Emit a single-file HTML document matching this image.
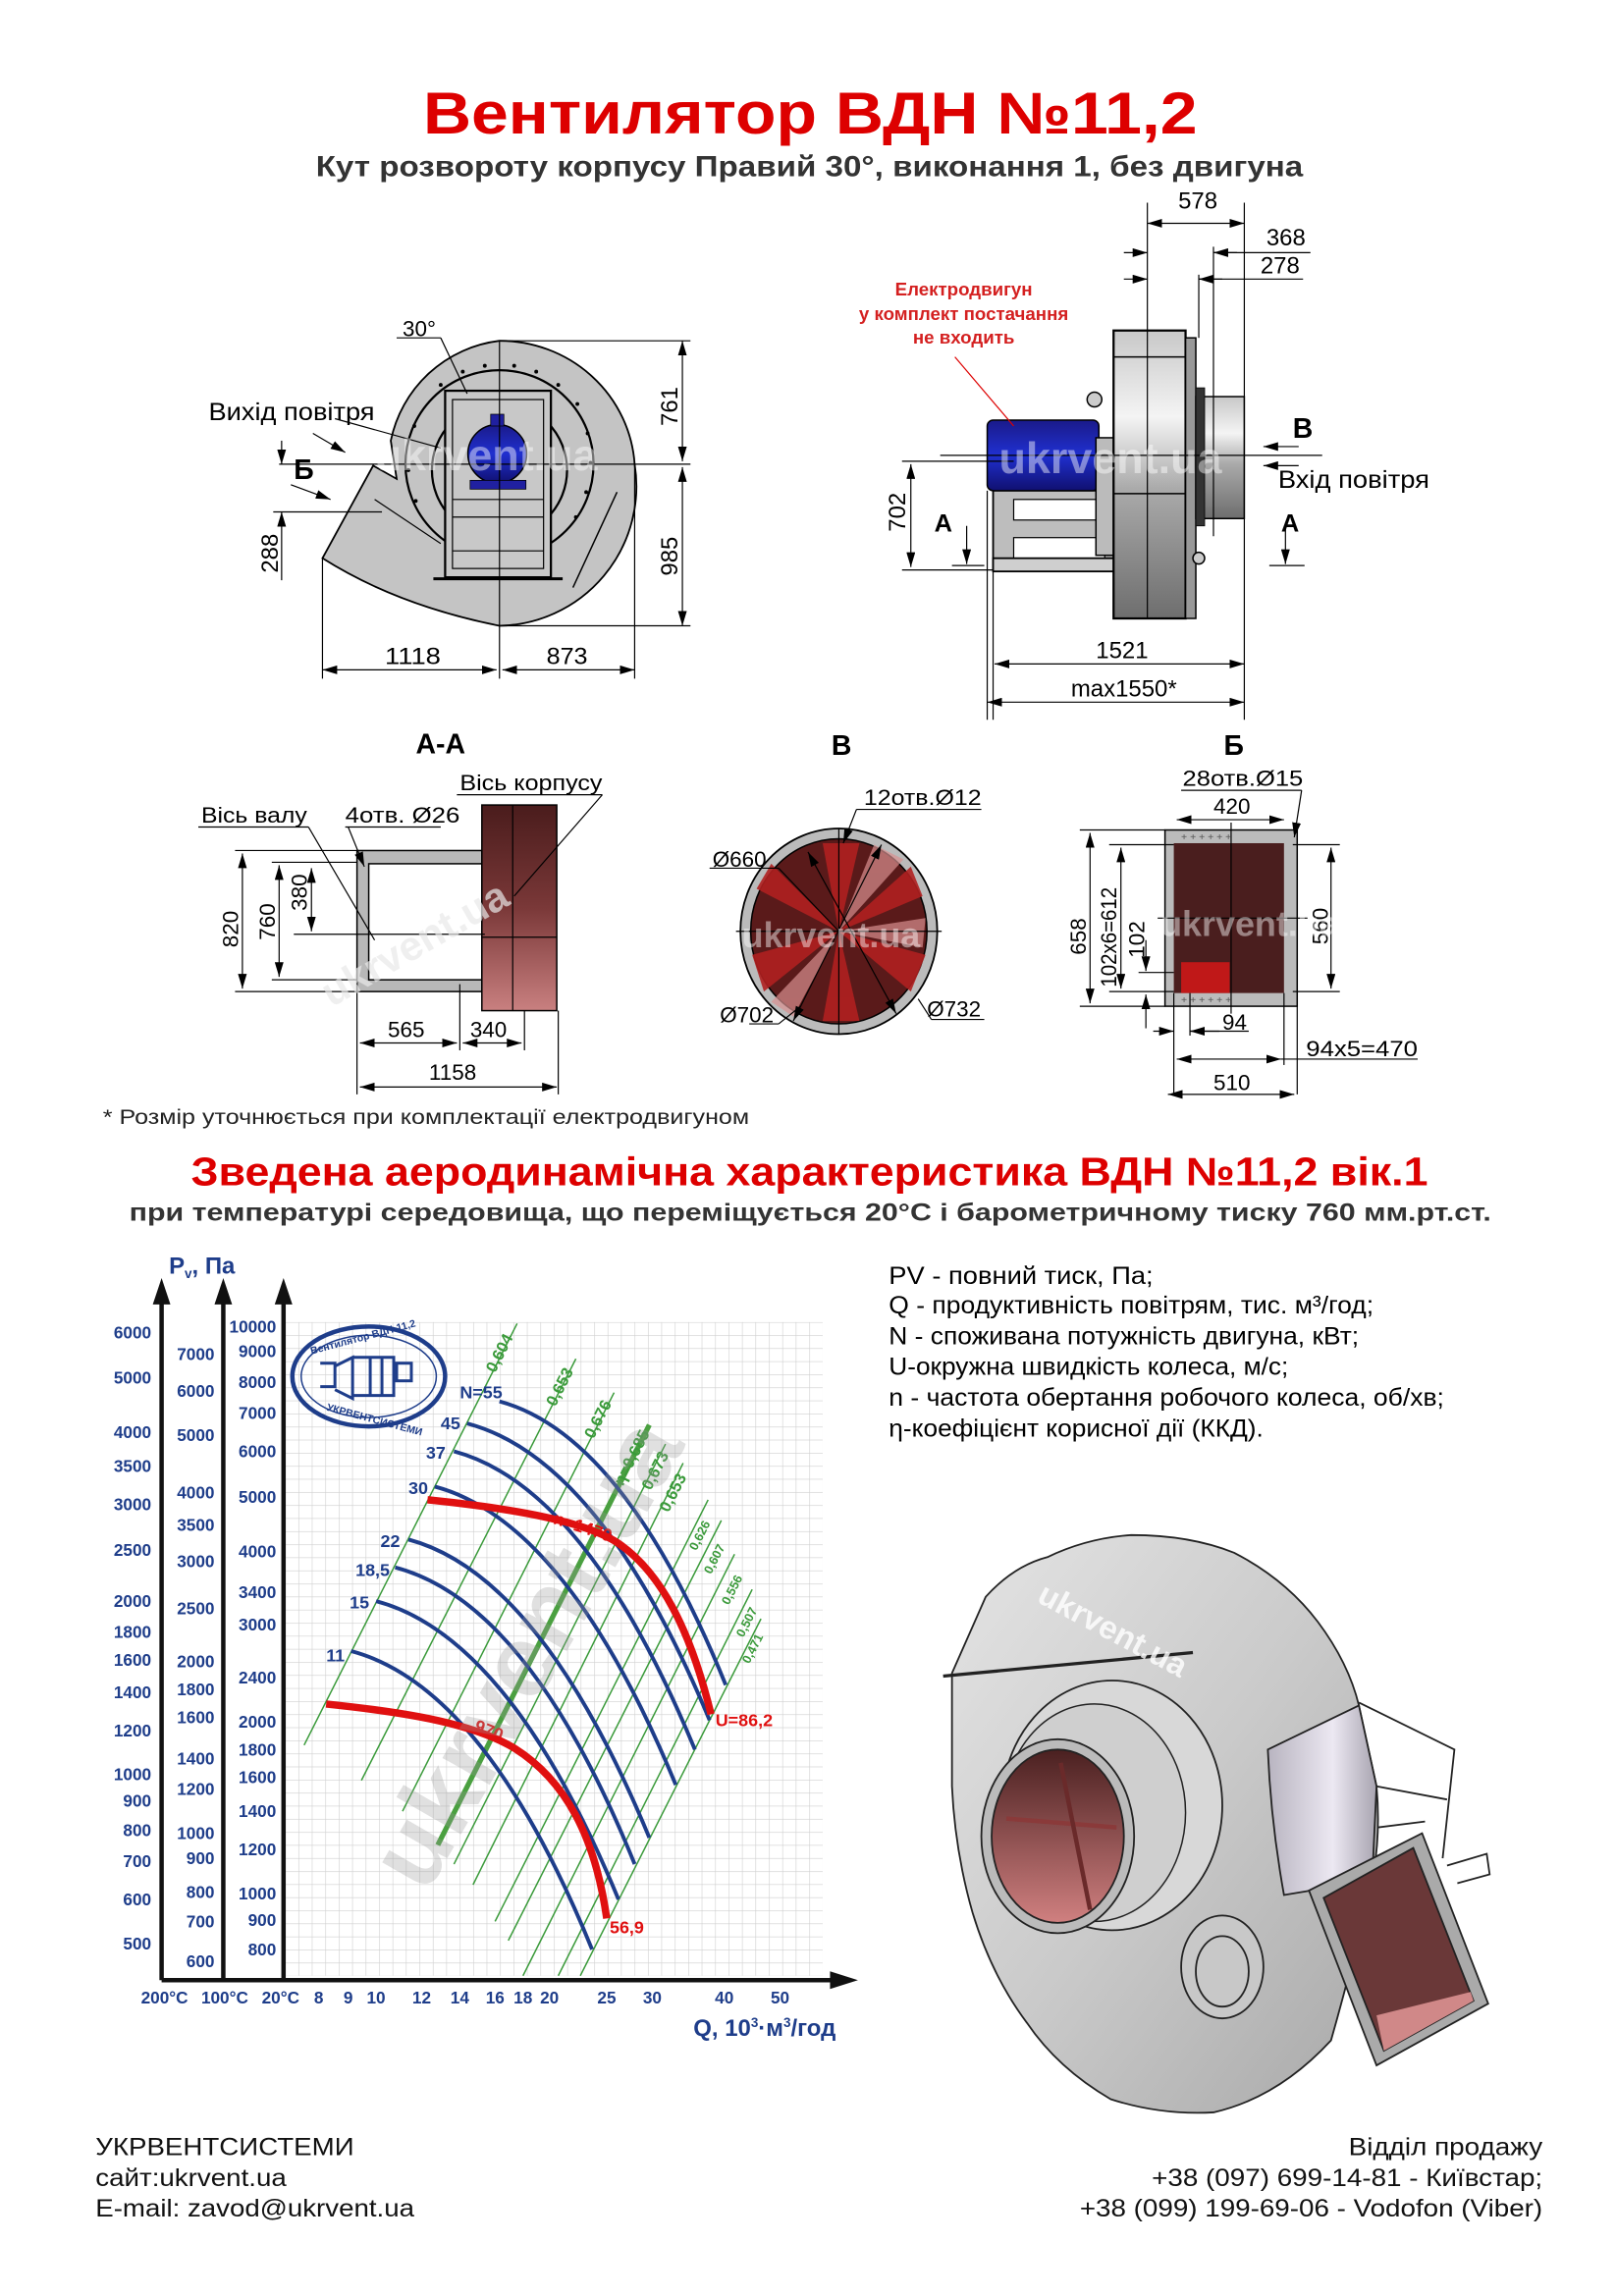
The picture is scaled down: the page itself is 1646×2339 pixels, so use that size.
<!DOCTYPE html>
<html><head><meta charset="utf-8">
<style>
html,body{margin:0;padding:0;background:#fff;}
svg{display:block;}
text{font-family:"Liberation Sans",Arial,sans-serif;}
</style></head>
<body>
<svg width="1646" height="2339" viewBox="0 0 1100 1563" preserveAspectRatio="none" xmlns="http://www.w3.org/2000/svg">
<defs>
<marker id="ar" viewBox="0 0 10 6" refX="10" refY="3" markerWidth="10" markerHeight="6" orient="auto-start-reverse" markerUnits="userSpaceOnUse"><path d="M0,0 L10,3 L0,6 Z" fill="#000"/></marker>
<linearGradient id="drum" x1="0" y1="0" x2="0" y2="1"><stop offset="0" stop-color="#c8c8c8"/><stop offset="0.3" stop-color="#f4f4f4"/><stop offset="0.55" stop-color="#aaa"/><stop offset="1" stop-color="#6e6e6e"/></linearGradient>
<linearGradient id="red" x1="0" y1="0" x2="0" y2="1"><stop offset="0" stop-color="#4a1c1c"/><stop offset="0.5" stop-color="#7a3838"/><stop offset="1" stop-color="#c98080"/></linearGradient>
<linearGradient id="motor" x1="0" y1="0" x2="0" y2="1"><stop offset="0" stop-color="#1a1a8a"/><stop offset="0.5" stop-color="#2030d0"/><stop offset="1" stop-color="#101070"/></linearGradient>
<linearGradient id="fan" x1="0" y1="0" x2="1" y2="1"><stop offset="0" stop-color="#e4e4e4"/><stop offset="0.5" stop-color="#cacaca"/><stop offset="1" stop-color="#a8a8a8"/></linearGradient>
<linearGradient id="band" x1="0" y1="0" x2="1" y2="0"><stop offset="0" stop-color="#b8b4c0"/><stop offset="0.6" stop-color="#ece8f2"/><stop offset="1" stop-color="#a8a4b0"/></linearGradient>
<linearGradient id="inred" x1="0" y1="0" x2="0" y2="1"><stop offset="0" stop-color="#4a2020"/><stop offset="1" stop-color="#d08080"/></linearGradient>
<pattern id="grid" x="194" y="900" width="9.15" height="8.9" patternUnits="userSpaceOnUse"><path d="M0,0 V8.9 M0,0 H9.15" stroke="#cfcfcf" stroke-width="0.8" fill="none"/></pattern>
</defs>

<!-- Titles -->
<text x="288" y="91" font-size="40" font-weight="bold" fill="#dd0000" textLength="527" lengthAdjust="spacingAndGlyphs">Вентилятор  ВДН №11,2</text>
<text x="215" y="120" font-size="20" font-weight="bold" fill="#333" textLength="672" lengthAdjust="spacingAndGlyphs">Кут розвороту корпусу Правий 30°, виконання 1, без двигуна</text>

<!-- FRONT VIEW -->
<g stroke="#000">
<path d="M219.5,380 Q270,412 340,426 A95,95 0 0 0 432,316 A92,90 0 0 0 340,232 A86,86 0 0 0 266,300 L270,326 L254,317 Z" fill="#c4c4c4" stroke-width="1.2"/>
<circle cx="340" cy="316" r="64" fill="none" stroke-width="1.5"/>
<circle cx="340" cy="320" r="46" fill="none" stroke-width="1.5"/>
<rect x="303" y="266" width="72" height="127" fill="#c8c8c8" stroke-width="1.5"/>
<rect x="308" y="272" width="62" height="115" fill="none" stroke-width="0.8"/>
<line x1="308" y1="340" x2="370" y2="340" stroke-width="0.8"/><line x1="308" y1="352" x2="370" y2="352" stroke-width="0.8"/><line x1="308" y1="375" x2="370" y2="375" stroke-width="0.8"/>
<line x1="295" y1="394" x2="383" y2="394" stroke-width="2"/>
<circle cx="338.5" cy="309" r="20" fill="url(#motor)" stroke-width="1"/>
<rect x="334" y="282" width="9" height="8" fill="#2020a0" stroke-width="0.5"/>
<rect x="320" y="327" width="38" height="6" fill="#2020a0" stroke-width="0.5"/>
<line x1="255" y1="340" x2="300" y2="370" stroke-width="0.8"/>
<line x1="420" y1="335" x2="390" y2="400" stroke-width="1"/>
</g>
<g fill="#000"><circle cx="300" cy="262" r="1.3"/><circle cx="315" cy="253" r="1.3"/><circle cx="330" cy="249" r="1.3"/><circle cx="350" cy="249" r="1.3"/><circle cx="365" cy="253" r="1.3"/><circle cx="380" cy="262" r="1.3"/><circle cx="393" cy="275" r="1.3"/><circle cx="400" cy="295" r="1.3"/><circle cx="402" cy="315" r="1.3"/><circle cx="399" cy="335" r="1.3"/><circle cx="392" cy="352" r="1.3"/><circle cx="282" cy="290" r="1.3"/><circle cx="278" cy="320" r="1.3"/><circle cx="283" cy="341" r="1.3"/></g>
<g stroke="#000" stroke-width="0.8" fill="none">
<line x1="190" y1="316" x2="470" y2="316"/>
<line x1="340" y1="232" x2="340" y2="462"/>
<line x1="340" y1="232" x2="470" y2="232"/>
<line x1="340" y1="426" x2="470" y2="426"/>
<line x1="464.5" y1="232" x2="464.5" y2="314" marker-start="url(#ar)" marker-end="url(#ar)"/>
<line x1="464.5" y1="318" x2="464.5" y2="426" marker-start="url(#ar)" marker-end="url(#ar)"/>
<line x1="219.5" y1="380" x2="219.5" y2="462"/>
<line x1="432" y1="316" x2="432" y2="462"/>
<line x1="219.5" y1="456" x2="338" y2="456" marker-start="url(#ar)" marker-end="url(#ar)"/>
<line x1="342" y1="456" x2="432" y2="456" marker-start="url(#ar)" marker-end="url(#ar)"/>
<line x1="186" y1="348.5" x2="260" y2="348.5"/>
<line x1="191.7" y1="300" x2="191.7" y2="316" marker-end="url(#ar)"/>
<line x1="191.7" y1="395" x2="191.7" y2="348.5" marker-end="url(#ar)"/>
<line x1="213" y1="295" x2="235" y2="308" marker-end="url(#ar)"/>
<line x1="198" y1="330" x2="225" y2="340" marker-end="url(#ar)"/>
<line x1="270" y1="230" x2="300" y2="230"/><line x1="300" y1="230" x2="318" y2="268"/>
<line x1="228" y1="285" x2="300" y2="305"/>
</g>
<text x="274" y="229" font-size="15">30°</text>
<text x="142" y="286" font-size="17" textLength="113" lengthAdjust="spacingAndGlyphs">Вихід повітря</text>
<text x="200" y="326" font-size="19" font-weight="bold">Б</text>
<text x="262" y="452" font-size="16" textLength="38" lengthAdjust="spacingAndGlyphs">1118</text>
<text x="372" y="452" font-size="16" textLength="28" lengthAdjust="spacingAndGlyphs">873</text>
<text transform="translate(461,290) rotate(-90)" font-size="16">761</text>
<text transform="translate(461,392) rotate(-90)" font-size="16">985</text>
<text transform="translate(189,390) rotate(-90)" font-size="16">288</text>

<!-- SIDE VIEW -->
<g stroke="#000">
<rect x="676" y="334" width="82" height="54" fill="#bdbdbd" stroke-width="1.2"/>
<rect x="690" y="340" width="62" height="14" fill="#fff" stroke-width="0.8"/>
<rect x="690" y="366" width="62" height="14" fill="#fff" stroke-width="0.8"/>
<rect x="676" y="380" width="84" height="9" fill="#cfcfcf" stroke-width="1.2"/>
<rect x="672" y="286" width="76" height="48" rx="4" fill="url(#motor)" stroke-width="1"/>
<rect x="746" y="298" width="14" height="80" fill="#bbb" stroke-width="1"/>
<circle cx="745" cy="272" r="5" fill="#ccc" stroke-width="1"/>
<rect x="758" y="225" width="49" height="196" fill="url(#drum)" stroke-width="1.5"/>
<line x1="758" y1="243" x2="807" y2="243" stroke-width="1"/>
<line x1="758" y1="336" x2="807" y2="336" stroke-width="1"/>
<rect x="807" y="230" width="7" height="191" fill="#999" stroke-width="1"/>
<rect x="814" y="270" width="33" height="83" fill="url(#drum)" stroke-width="1"/>
<rect x="814" y="264" width="6" height="94" fill="#333" stroke-width="0.5"/>
<circle cx="816" cy="380" r="4" fill="#ccc" stroke-width="1"/>
</g>
<g stroke="#000" stroke-width="0.8" fill="none">
<line x1="781" y1="138" x2="781" y2="421"/>
<line x1="847" y1="138" x2="847" y2="490"/>
<line x1="826" y1="168" x2="826" y2="365"/>
<line x1="816" y1="187" x2="816" y2="230"/>
<line x1="781" y1="152" x2="847" y2="152" marker-start="url(#ar)" marker-end="url(#ar)"/>
<line x1="765" y1="172" x2="781" y2="172" marker-end="url(#ar)"/><line x1="826" y1="172" x2="892" y2="172"/><line x1="842" y1="172" x2="826" y2="172" marker-end="url(#ar)"/>
<line x1="765" y1="190" x2="781" y2="190" marker-end="url(#ar)"/><line x1="816" y1="190" x2="887" y2="190"/><line x1="832" y1="190" x2="816" y2="190" marker-end="url(#ar)"/>
<line x1="676" y1="388" x2="676" y2="490"/><line x1="672" y1="334" x2="672" y2="490"/>
<line x1="677" y1="452" x2="847" y2="452" marker-start="url(#ar)" marker-end="url(#ar)"/>
<line x1="672" y1="478" x2="847" y2="478" marker-start="url(#ar)" marker-end="url(#ar)"/>
<line x1="614" y1="314" x2="690" y2="314"/><line x1="614" y1="388" x2="676" y2="388"/>
<line x1="620" y1="316" x2="620" y2="386" marker-start="url(#ar)" marker-end="url(#ar)"/>
<line x1="640" y1="310" x2="900" y2="310"/>
<line x1="658" y1="358" x2="658" y2="384" marker-end="url(#ar)"/><line x1="648" y1="385" x2="670" y2="385"/>
<line x1="875" y1="358" x2="875" y2="384" marker-end="url(#ar)"/><line x1="864" y1="385" x2="888" y2="385"/>
<line x1="884" y1="304" x2="860" y2="304" marker-end="url(#ar)"/>
<line x1="884" y1="317" x2="860" y2="317" marker-end="url(#ar)"/>
</g>
<line x1="650" y1="243" x2="690" y2="290" stroke="#d00" stroke-width="0.8"/>
<g font-size="12.5" font-weight="bold" fill="#d42020" text-anchor="middle"><text x="656" y="201">Електродвигун</text><text x="656" y="218">у комплект постачання</text><text x="656" y="234">не входить</text></g>
<text x="802" y="142" font-size="16">578</text>
<text x="862" y="167" font-size="16">368</text>
<text x="858" y="186" font-size="16">278</text>
<text x="746" y="448" font-size="16">1521</text>
<text x="729" y="474" font-size="16">max1550*</text>
<text transform="translate(616,362) rotate(-90)" font-size="16">702</text>
<text x="636" y="362" font-size="17" font-weight="bold">А</text>
<text x="872" y="362" font-size="17" font-weight="bold">А</text>
<text x="880" y="298" font-size="19" font-weight="bold">В</text>
<text x="870" y="332" font-size="17" textLength="103" lengthAdjust="spacingAndGlyphs">Вхід повітря</text>
<text x="680" y="322" font-size="30" font-weight="bold" fill="#fff" fill-opacity="0.45">ukrvent.ua</text>
<text x="255" y="320" font-size="30" font-weight="bold" fill="#fff" fill-opacity="0.45">ukrvent.ua</text>

<!-- A-A -->
<text x="283" y="513" font-size="19" font-weight="bold">А-А</text>
<g stroke="#000">
<rect x="243" y="579" width="85" height="96" fill="#b8b8b8" stroke-width="1"/>
<rect x="251" y="588" width="77" height="79" fill="#fff" stroke-width="1"/>
<rect x="328" y="548" width="51" height="140" fill="url(#red)" stroke-width="1"/>
<line x1="328" y1="638" x2="379" y2="638" stroke-width="0.8"/>
</g>
<g stroke="#000" stroke-width="0.8" fill="none">
<line x1="349" y1="548" x2="349" y2="688"/>
<line x1="200" y1="636" x2="330" y2="636"/>
<line x1="160" y1="579" x2="243" y2="579"/><line x1="160" y1="675" x2="243" y2="675"/>
<line x1="185" y1="587" x2="243" y2="587"/><line x1="185" y1="667" x2="243" y2="667"/>
<line x1="165" y1="581" x2="165" y2="673" marker-start="url(#ar)" marker-end="url(#ar)"/>
<line x1="190" y1="589" x2="190" y2="665" marker-start="url(#ar)" marker-end="url(#ar)"/>
<line x1="212" y1="591" x2="212" y2="634" marker-start="url(#ar)" marker-end="url(#ar)"/>
<line x1="243" y1="675" x2="243" y2="745"/><line x1="313" y1="670" x2="313" y2="715"/><line x1="357" y1="688" x2="357" y2="715"/><line x1="380" y1="688" x2="380" y2="745"/>
<line x1="245" y1="710" x2="311" y2="710" marker-start="url(#ar)" marker-end="url(#ar)"/>
<line x1="315" y1="710" x2="355" y2="710" marker-start="url(#ar)" marker-end="url(#ar)"/>
<line x1="245" y1="740" x2="379" y2="740" marker-start="url(#ar)" marker-end="url(#ar)"/>
<line x1="135" y1="563" x2="210" y2="563"/><line x1="210" y1="563" x2="255" y2="640"/>
<line x1="235" y1="563" x2="300" y2="563"/><line x1="237" y1="563" x2="248" y2="590" marker-end="url(#ar)"/>
<line x1="311" y1="541" x2="410" y2="541"/><line x1="410" y1="541" x2="350" y2="610"/>
</g>
<text x="137" y="560" font-size="15" textLength="72" lengthAdjust="spacingAndGlyphs">Вісь валу</text>
<text x="235" y="560" font-size="15" textLength="78" lengthAdjust="spacingAndGlyphs">4отв. Ø26</text>
<text x="313" y="538" font-size="15" textLength="97" lengthAdjust="spacingAndGlyphs">Вісь корпусу</text>
<text transform="translate(162,645) rotate(-90)" font-size="15">820</text>
<text transform="translate(187,640) rotate(-90)" font-size="15">760</text>
<text transform="translate(209,620) rotate(-90)" font-size="15">380</text>
<text x="264" y="706" font-size="15">565</text>
<text x="320" y="706" font-size="15">340</text>
<text x="292" y="735" font-size="15">1158</text>
<text x="200" y="650" font-size="28" font-weight="bold" fill="#e8e8e8" fill-opacity="0.7" transform="rotate(-30 280 620)">ukrvent.ua</text>

<!-- B view -->
<text x="566" y="514" font-size="19" font-weight="bold">В</text>
<ellipse cx="571" cy="634" rx="67" ry="70" fill="#bbb" stroke="#000" stroke-width="1.2"/>
<ellipse cx="571" cy="634" rx="60" ry="63" fill="#5a1a1a" stroke="#000" stroke-width="1"/>
<g fill="#b02020" opacity="0.9">
<path d="M571,634 L560,574 L585,574 Z"/><path d="M571,634 L620,590 L628,610 Z"/><path d="M571,634 L630,650 L620,675 Z"/><path d="M571,634 L585,695 L560,695 Z"/><path d="M571,634 L520,675 L512,650 Z"/><path d="M571,634 L515,605 L525,588 Z"/>
</g>
<g fill="#d89090" opacity="0.7"><path d="M571,634 L595,575 L615,585 Z"/><path d="M571,634 L630,625 L628,645 Z"/><path d="M571,634 L540,692 L525,682 Z"/></g>
<g stroke="#000" stroke-width="0.8" fill="none">
<line x1="571" y1="564" x2="571" y2="704"/><line x1="501" y1="634" x2="641" y2="634"/>
<line x1="583" y1="551" x2="668" y2="551"/><line x1="583" y1="551" x2="574" y2="574" marker-end="url(#ar)"/>
<line x1="483" y1="591" x2="530" y2="591"/><line x1="530" y1="591" x2="571" y2="634"/>
<line x1="550" y1="580" x2="610" y2="690" marker-start="url(#ar)" marker-end="url(#ar)"/>
<line x1="600" y1="575" x2="540" y2="695" marker-start="url(#ar)" marker-end="url(#ar)"/>
<line x1="510" y1="697" x2="530" y2="697"/><line x1="530" y1="697" x2="545" y2="685"/>
<line x1="634" y1="694" x2="670" y2="694"/><line x1="634" y1="694" x2="625" y2="680"/>
</g>
<text x="588" y="548" font-size="15" textLength="80" lengthAdjust="spacingAndGlyphs">12отв.Ø12</text>
<text x="485" y="590" font-size="15">Ø660</text>
<text x="490" y="696" font-size="15">Ø702</text>
<text x="631" y="692" font-size="15">Ø732</text>
<text x="505" y="645" font-size="24" font-weight="bold" fill="#fff" fill-opacity="0.45">ukrvent.ua</text>

<!-- Б view -->
<text x="833" y="514" font-size="19" font-weight="bold">Б</text>
<rect x="793" y="565" width="90" height="120" fill="#bbb" stroke="#000" stroke-width="1"/>
<rect x="799" y="574" width="75" height="102" fill="#4a1e1e"/>
<rect x="804" y="655" width="33" height="21" fill="#c01818"/>
<g stroke="#000" stroke-width="0.8" fill="none">
<line x1="838" y1="560" x2="838" y2="690"/><line x1="788" y1="625" x2="890" y2="625"/>
<line x1="735" y1="565" x2="793" y2="565"/><line x1="735" y1="685" x2="793" y2="685"/>
<line x1="742" y1="567" x2="742" y2="683" marker-start="url(#ar)" marker-end="url(#ar)"/>
<line x1="755" y1="575" x2="799" y2="575"/><line x1="755" y1="675" x2="799" y2="675"/>
<line x1="763" y1="577" x2="763" y2="673" marker-start="url(#ar)" marker-end="url(#ar)"/>
<line x1="775" y1="662" x2="799" y2="662"/>
<line x1="780" y1="640" x2="780" y2="661" marker-end="url(#ar)"/><line x1="780" y1="700" x2="780" y2="677" marker-end="url(#ar)"/>
<line x1="880" y1="575" x2="912" y2="575"/><line x1="880" y1="675" x2="912" y2="675"/>
<line x1="906" y1="577" x2="906" y2="673" marker-start="url(#ar)" marker-end="url(#ar)"/>
<line x1="801" y1="558" x2="874" y2="558" marker-start="url(#ar)" marker-end="url(#ar)"/>
<line x1="804" y1="538" x2="886" y2="538"/><line x1="886" y1="538" x2="881" y2="570" marker-end="url(#ar)"/>
<line x1="799" y1="676" x2="799" y2="745"/><line x1="883" y1="685" x2="883" y2="745"/><line x1="810" y1="676" x2="810" y2="705"/><line x1="874" y1="676" x2="874" y2="725"/>
<line x1="785" y1="702" x2="799" y2="702" marker-end="url(#ar)"/><line x1="830" y1="702" x2="810" y2="702" marker-end="url(#ar)"/><line x1="810" y1="702" x2="850" y2="702"/>
<line x1="801" y1="721" x2="872" y2="721" marker-start="url(#ar)" marker-end="url(#ar)"/><line x1="872" y1="721" x2="965" y2="721"/>
<line x1="795" y1="745" x2="881" y2="745" marker-start="url(#ar)" marker-end="url(#ar)"/>
</g>
<g fill="#555" font-size="7"><text x="804" y="572">+ + + + + +</text><text x="804" y="683">+ + + + + +</text></g>
<text x="805" y="535" font-size="15" textLength="82" lengthAdjust="spacingAndGlyphs">28отв.Ø15</text>
<text x="826" y="554" font-size="15">420</text>
<text transform="translate(739,650) rotate(-90)" font-size="15">658</text>
<text transform="translate(760,672) rotate(-90)" font-size="15" textLength="68" lengthAdjust="spacingAndGlyphs">102x6=612</text>
<text transform="translate(779,652) rotate(-90)" font-size="15">102</text>
<text transform="translate(904,643) rotate(-90)" font-size="15">560</text>
<text x="832" y="701" font-size="15">94</text>
<text x="889" y="719" font-size="15" textLength="76" lengthAdjust="spacingAndGlyphs">94x5=470</text>
<text x="826" y="742" font-size="15">510</text>
<text x="790" y="637" font-size="24" font-weight="bold" fill="#fff" fill-opacity="0.45">ukrvent.ua</text>

<text x="70" y="765" font-size="14" fill="#222" textLength="440" lengthAdjust="spacingAndGlyphs">* Розмір уточнюється при комплектації електродвигуном</text>

<text x="130" y="807" font-size="27" font-weight="bold" fill="#dd0000" textLength="842" lengthAdjust="spacingAndGlyphs">Зведена аеродинамічна характеристика ВДН №11,2 вік.1</text>
<text x="88" y="831" font-size="17" font-weight="bold" fill="#333" textLength="927" lengthAdjust="spacingAndGlyphs">при температурі середовища, що переміщується 20°С і барометричному тиску 760 мм.рт.ст.</text>

<!-- CHART -->
<rect x="194" y="900" width="366" height="445" fill="url(#grid)"/>
<g stroke="#111" stroke-width="3" fill="#111">
<line x1="110" y1="1348" x2="110" y2="885"/><path d="M104,888 L110,870 L116,888 Z" stroke="none"/>
<line x1="152" y1="1348" x2="152" y2="885"/><path d="M146,888 L152,870 L158,888 Z" stroke="none"/>
<line x1="193" y1="1348" x2="193" y2="885"/><path d="M187,888 L193,870 L199,888 Z" stroke="none"/>
<line x1="110" y1="1348" x2="568" y2="1348"/><path d="M565,1342 L584,1348 L565,1354 Z" stroke="none"/>
</g>
<text x="115" y="867" font-size="16" font-weight="bold" fill="#1e3d8a">P<tspan font-size="9" dy="3">v</tspan><tspan dy="-3">, Па</tspan></text>
<g font-size="11.5" font-weight="bold" fill="#1e3d8a" text-anchor="end">
<text x="103" y="911">6000</text><text x="103" y="942">5000</text><text x="103" y="979">4000</text><text x="103" y="1002">3500</text><text x="103" y="1028">3000</text><text x="103" y="1059">2500</text><text x="103" y="1094">2000</text><text x="103" y="1115">1800</text><text x="103" y="1134">1600</text><text x="103" y="1156">1400</text><text x="103" y="1182">1200</text><text x="103" y="1212">1000</text><text x="103" y="1230">900</text><text x="103" y="1250">800</text><text x="103" y="1271">700</text><text x="103" y="1297">600</text><text x="103" y="1327">500</text>
<text x="146" y="926">7000</text><text x="146" y="951">6000</text><text x="146" y="981">5000</text><text x="146" y="1020">4000</text><text x="146" y="1042">3500</text><text x="146" y="1067">3000</text><text x="146" y="1099">2500</text><text x="146" y="1135">2000</text><text x="146" y="1154">1800</text><text x="146" y="1173">1600</text><text x="146" y="1201">1400</text><text x="146" y="1222">1200</text><text x="146" y="1252">1000</text><text x="146" y="1269">900</text><text x="146" y="1292">800</text><text x="146" y="1312">700</text><text x="146" y="1339">600</text>
<text x="188" y="907">10000</text><text x="188" y="924">9000</text><text x="188" y="945">8000</text><text x="188" y="966">7000</text><text x="188" y="992">6000</text><text x="188" y="1023">5000</text><text x="188" y="1060">4000</text><text x="188" y="1088">3400</text><text x="188" y="1110">3000</text><text x="188" y="1146">2400</text><text x="188" y="1176">2000</text><text x="188" y="1195">1800</text><text x="188" y="1214">1600</text><text x="188" y="1237">1400</text><text x="188" y="1263">1200</text><text x="188" y="1293">1000</text><text x="188" y="1311">900</text><text x="188" y="1331">800</text>
</g>
<g font-size="11.5" font-weight="bold" fill="#1e3d8a" text-anchor="middle">
<text x="112" y="1364">200°С</text><text x="153" y="1364">100°С</text><text x="191" y="1364">20°С</text><text x="217" y="1364">8</text><text x="237" y="1364">9</text><text x="256" y="1364">10</text><text x="287" y="1364">12</text><text x="313" y="1364">14</text><text x="337" y="1364">16</text><text x="356" y="1364">18</text><text x="374" y="1364">20</text><text x="413" y="1364">25</text><text x="444" y="1364">30</text><text x="493" y="1364">40</text><text x="531" y="1364">50</text>
</g>
<text x="472" y="1386" font-size="16" font-weight="bold" fill="#1e3d8a">Q, 10<tspan font-size="9" dy="-6">3</tspan><tspan dy="6">·м</tspan><tspan font-size="9" dy="-6">3</tspan><tspan dy="6">/год</tspan></text>

<g stroke="#3a9a3a" stroke-width="1">
<line x1="207" y1="1188" x2="352" y2="901"/><line x1="246" y1="1212" x2="392" y2="925"/><line x1="274" y1="1233" x2="418" y2="948"/>
<line x1="298" y1="1256" x2="442" y2="970" stroke-width="3.5" stroke="#4aa040"/>
<line x1="309" y1="1269" x2="453" y2="983"/><line x1="322" y1="1283" x2="465" y2="996"/><line x1="337" y1="1308" x2="482" y2="1021"/><line x1="346" y1="1321" x2="491" y2="1035"/><line x1="356" y1="1345" x2="500" y2="1058"/><line x1="380" y1="1345" x2="512" y2="1082"/><line x1="395" y1="1345" x2="518" y2="1102"/>
</g>
<g font-size="11" font-weight="bold" fill="#3a9a3a">
<text transform="translate(337,935) rotate(-63)">0,604</text>
<text transform="translate(378,958) rotate(-63)">0,653</text>
<text transform="translate(404,980) rotate(-63)">0,676</text>
<text transform="translate(424,1012) rotate(-63)">η=0,685</text>
<text transform="translate(443,1015) rotate(-63)">0,673</text>
<text transform="translate(455,1030) rotate(-63)">0,653</text>
<text transform="translate(474,1056) rotate(-63)" font-size="8.5">0,626</text>
<text transform="translate(484,1072) rotate(-63)" font-size="8.5">0,607</text>
<text transform="translate(496,1093) rotate(-63)" font-size="8.5">0,556</text>
<text transform="translate(506,1115) rotate(-63)" font-size="8.5">0,507</text>
<text transform="translate(510,1133) rotate(-63)" font-size="8.5">0,471</text>
</g>
<g stroke="#1e3d8a" stroke-width="2.6" fill="none">
<path d="M340,954 Q425,977 494,1147"/>
<path d="M318,969 Q409,993 483,1171"/>
<path d="M309,988 Q399,1012 473,1191"/>
<path d="M296,1012 Q386,1036 460,1215"/>
<path d="M278,1048 Q368,1072 442,1251"/>
<path d="M269,1067 Q360,1091 432,1269"/>
<path d="M256,1090 Q347,1114 421,1293"/>
<path d="M239,1124 Q330,1148 403,1327"/>
</g>
<g font-size="12" font-weight="bold" fill="#1e3d8a">
<text x="313" y="952">N=55</text><text x="300" y="973">45</text><text x="290" y="993">37</text><text x="278" y="1017">30</text><text x="259" y="1053">22</text><text x="242" y="1073">18,5</text><text x="238" y="1095">15</text><text x="222" y="1131">11</text>
</g>
<g stroke="#e01010" stroke-width="5" fill="none">
<path d="M291,1021 C340,1026 395,1034 420,1050 C450,1070 470,1110 484,1167"/>
<path d="M222,1160 C270,1165 320,1172 350,1190 C385,1212 405,1250 413,1306"/>
</g>
<g font-size="12" font-weight="bold" fill="#e01010">
<text transform="translate(376,1037) rotate(18)">n=1470</text>
<text transform="translate(322,1178) rotate(22)">970</text>
<text x="487" y="1175">U=86,2</text>
<text x="415" y="1316">56,9</text>
</g>
<ellipse cx="251" cy="937" rx="52" ry="34" fill="none" stroke="#1e3d8a" stroke-width="3"/>
<ellipse cx="251" cy="937" rx="46" ry="28" fill="none" stroke="#1e3d8a" stroke-width="1"/>
<g fill="none" stroke="#1e3d8a" stroke-width="2"><path d="M218,928 h10 v16 h-10 M228,930 l12,-6 v28 l-12,-6 M240,924 h28 v26 h-28 M252,924 v26 M260,924 v26"/><rect x="270" y="928" width="10" height="12"/></g>
<text transform="translate(212,922) rotate(-15)" font-size="7" font-weight="bold" fill="#1e3d8a">Вентилятор ВДН-11,2</text>
<text transform="translate(222,960) rotate(15)" font-size="7" font-weight="bold" fill="#1e3d8a">УКРВЕНТСИСТЕМИ</text>
<text transform="translate(290,1290) rotate(-60)" font-size="70" font-weight="bold" fill="#999" fill-opacity="0.3">ukrvent.ua</text>

<g font-size="17" fill="#000">
<text x="605" y="874" textLength="180" lengthAdjust="spacingAndGlyphs">PV - повний тиск, Па;</text>
<text x="605" y="894" textLength="330" lengthAdjust="spacingAndGlyphs">Q - продуктивність повітрям, тис. м³/год;</text>
<text x="605" y="915" textLength="320" lengthAdjust="spacingAndGlyphs">N - споживана потужність двигуна, кВт;</text>
<text x="605" y="936" textLength="272" lengthAdjust="spacingAndGlyphs">U-окружна швидкість колеса, м/с;</text>
<text x="605" y="957" textLength="378" lengthAdjust="spacingAndGlyphs">n - частота обертання робочого колеса, об/хв;</text>
<text x="605" y="978" textLength="255" lengthAdjust="spacingAndGlyphs">η-коефіцієнт корисної дії (ККД).</text>
</g>

<!-- 3D FAN -->
<g stroke="#222" stroke-width="1.2">
<path d="M925,1159 L990,1191 L982,1265 M937,1216 L985,1225 M930,1245 L970,1240" fill="none"/>
<path d="M648,1139 L671,1087 Q690,1066 713,1060 Q740,1047 770,1045 Q810,1045 840,1057 Q875,1075 897,1104 Q918,1132 925,1161 L937,1216 Q940,1250 934,1280 Q920,1340 906,1389 Q870,1428 826,1438 Q790,1440 756,1429 Q720,1408 699,1377 Q675,1345 662,1302 Q650,1260 648,1216 Z" fill="url(#fan)"/>
<path d="M863,1191 L925,1161 L937,1216 L934,1280 L874,1290 Q865,1240 863,1191 Z" fill="url(#band)"/>
<path d="M642,1141 L812,1125" fill="none" stroke-width="2.2"/>
<ellipse cx="757" cy="1229" rx="75" ry="85" fill="#d8d8d8"/>
<ellipse cx="745" cy="1234" rx="62" ry="74" fill="#cfcfcf" stroke-width="1"/>
<ellipse cx="720" cy="1250" rx="52" ry="66" fill="#bbb"/>
<ellipse cx="720" cy="1250" rx="45" ry="59" fill="url(#inred)"/>
<line x1="685" y1="1238" x2="760" y2="1244" stroke="#8a3a3a" stroke-width="3"/>
<line x1="722" y1="1200" x2="742" y2="1300" stroke="#6a2a2a" stroke-width="3"/>
<ellipse cx="832" cy="1339" rx="28" ry="35" fill="#c8c8c8"/>
<ellipse cx="832" cy="1342" rx="18" ry="24" fill="none"/>
<path d="M891,1287 L968,1248 L1013,1364 L937,1406 Z" fill="#aaa"/>
<path d="M901,1292 L962,1258 L1003,1362 L942,1396 Z" fill="#6a3838"/>
<path d="M937,1372 L1001,1356 L1003,1362 L942,1396 Z" fill="#d08888" stroke="none"/>
<path d="M985,1270 L1012,1262 L1014,1276 L992,1282" fill="none"/>
</g>
<text transform="translate(705,1090) rotate(28)" font-size="22" font-weight="bold" fill="#fff" fill-opacity="0.8">ukrvent.ua</text>

<g font-size="17" fill="#111">
<text x="65" y="1467" textLength="176" lengthAdjust="spacingAndGlyphs">УКРВЕНТСИСТЕМИ</text>
<text x="65" y="1488" textLength="130" lengthAdjust="spacingAndGlyphs">сайт:ukrvent.ua</text>
<text x="65" y="1509" textLength="217" lengthAdjust="spacingAndGlyphs">E-mail: zavod@ukrvent.ua</text>
<text x="1050" y="1467" text-anchor="end" textLength="132" lengthAdjust="spacingAndGlyphs">Відділ продажу</text>
<text x="1050" y="1488" text-anchor="end" textLength="266" lengthAdjust="spacingAndGlyphs">+38 (097) 699-14-81 - Київстар;</text>
<text x="1050" y="1509" text-anchor="end" textLength="315" lengthAdjust="spacingAndGlyphs">+38 (099) 199-69-06 - Vodofon (Viber)</text>
</g>
</svg>
</body></html>
